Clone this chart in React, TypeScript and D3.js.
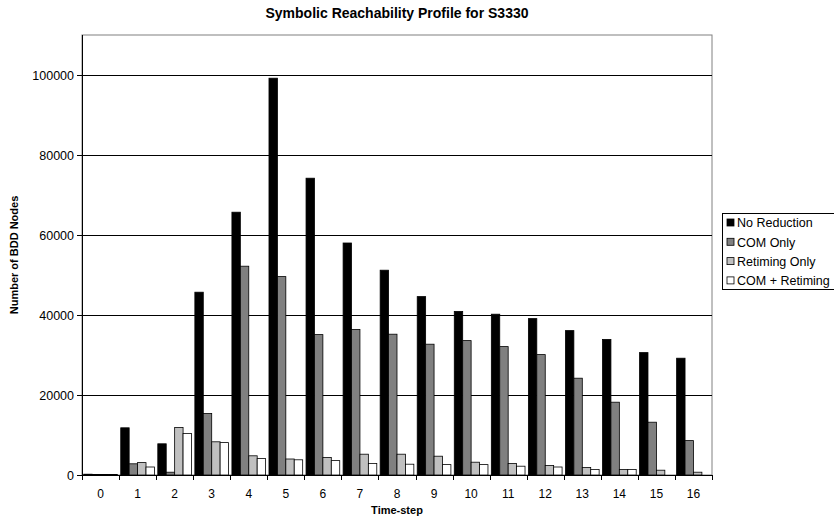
import React from 'react'
import * as d3 from 'd3'

const steps = ['0', '1', '2', '3', '4', '5', '6', '7', '8', '9', '10', '11', '12', '13', '14', '15', '16']
const noReduction = [200, 11800, 7800, 45700, 65700, 99200, 74200, 58000, 51200, 44600, 40900, 40200, 39100, 36100, 33900, 30600, 29200]
const comOnly = [150, 2800, 700, 15400, 52200, 49600, 35100, 36400, 35200, 32700, 33600, 32100, 30100, 24200, 18200, 13200, 8600]
const retimingOnly = [150, 3100, 11900, 8300, 4800, 4000, 4400, 5200, 5200, 4700, 3200, 2900, 2400, 1900, 1400, 1200, 700]
const comRetiming = [150, 2000, 10400, 8100, 4100, 3800, 3600, 2900, 2700, 2600, 2600, 2200, 2000, 1400, 1400, 0, 0]
const yTicks = [0, 20000, 40000, 60000, 80000, 100000]

const seriesNames = ['No Reduction', 'COM Only', 'Retiming Only', 'COM + Retiming']
const seriesValues = [noReduction, comOnly, retimingOnly, comRetiming]
const seriesColors = ['#000000', '#808080', '#c0c0c0', '#ffffff']

const W = 834
const H = 522
const margin = { top: 35, right: 122, bottom: 47, left: 82 }
const font = '"Liberation Sans", Arial, sans-serif'

export default function App() {
  const innerW = W - margin.left - margin.right
  const innerH = H - margin.top - margin.bottom

  const x = d3.scaleBand().domain(steps).range([0, innerW]).paddingInner(0).paddingOuter(0)
  const inner = d3.scaleBand().domain(seriesNames).range([0, x.bandwidth()]).paddingInner(0).paddingOuter(0.2)
  const y = d3.scaleLinear().domain([0, 110000]).range([innerH, 0])

  return (
    <svg width={W} height={H} style={{ position: 'absolute', left: 0, top: 0, fontFamily: font }}>
      <rect width={W} height={H} fill="#fff" />
      <text x={397} y={18} textAnchor="middle" fontSize={14} fontWeight="bold">
        Symbolic Reachability Profile for S3330
      </text>
      <g transform={`translate(${margin.left},${margin.top})`}>
        {/* plot border */}
        <rect x={0} y={0} width={innerW} height={innerH} fill="none" stroke="#808080" strokeWidth={1} />
        {yTicks.filter(t => t > 0).map(t => (
          <line key={t} x1={0} x2={innerW} y1={Math.round(y(t)) + 0.5} y2={Math.round(y(t)) + 0.5} stroke="#000" strokeWidth={1} />
        ))}
        {seriesValues.map((vals, si) => (
          <g key={si}>
            {vals.map((v, i) => (
              <rect
                key={i}
                x={(x(steps[i]) as number) + (inner(seriesNames[si]) as number)}
                y={y(v)}
                width={inner.bandwidth()}
                height={innerH - y(v)}
                fill={seriesColors[si]}
                stroke="#000"
                strokeWidth={0.8}
              />
            ))}
          </g>
        ))}
        {/* y axis */}
        <line x1={0.5} x2={0.5} y1={0} y2={innerH} stroke="#000" />
        {yTicks.map(t => (
          <g key={t} transform={`translate(0,${Math.round(y(t)) + 0.5})`}>
            <line x1={-5} x2={0} stroke="#000" />
            <text x={-8} dy="0.35em" textAnchor="end" fontSize={12.5}>{t}</text>
          </g>
        ))}
        {/* x axis */}
        <line x1={0} x2={innerW} y1={innerH + 0.5} y2={innerH + 0.5} stroke="#000" />
        {steps.concat(['end']).map((s, i) => {
          const px = Math.round(i * x.step()) + 0.5
          return <line key={s} x1={px} x2={px} y1={innerH} y2={innerH + 5} stroke="#000" />
        })}
        {steps.map(s => (
          <text key={s} x={(x(s) as number) + x.bandwidth() / 2} y={innerH + 23} textAnchor="middle" fontSize={12}>
            {s}
          </text>
        ))}
        <text x={innerW / 2} y={innerH + 39} textAnchor="middle" fontSize={11} fontWeight="bold">
          Time-step
        </text>
        <text transform={`translate(${-64},${innerH / 2}) rotate(-90)`} textAnchor="middle" fontSize={11} fontWeight="bold">
          Number of BDD Nodes
        </text>
      </g>
      {/* legend */}
      <g transform="translate(722,213)">
        <rect x={0.5} y={0.5} width={120} height={76} fill="#fff" stroke="#000" />
        {seriesNames.map((n, i) => (
          <g key={n} transform={`translate(5,${10 + i * 19.3})`}>
            <rect x={0} y={-4} width={7} height={7} fill={seriesColors[i]} stroke="#000" strokeWidth={0.8} />
            <text x={10} dy="0.35em" fontSize={12.5}>{n}</text>
          </g>
        ))}
      </g>
    </svg>
  )
}
